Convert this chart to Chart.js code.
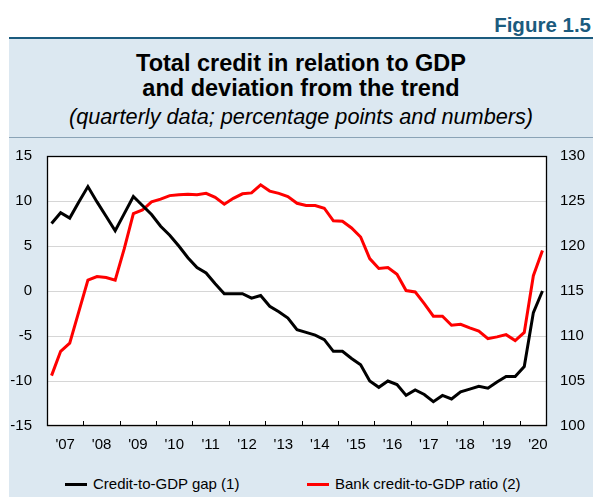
<!DOCTYPE html>
<html>
<head>
<meta charset="utf-8">
<script src="https://cdn.jsdelivr.net/npm/chart.js@4/dist/chart.umd.min.js"></script>
<style>
  html, body { margin: 0; padding: 0; background: #fff; }
  body { width: 593px; height: 497px; position: relative; overflow: hidden;
         font-family: "Liberation Sans", Arial, Helvetica, sans-serif; color: #000; }
  #fig { position: absolute; right: 2px; top: 15px; font-size: 20.5px; line-height: 20px;
         font-weight: bold; color: #1b5b7e; }
  #panel { position: absolute; left: 9px; top: 37px; right: 0; bottom: 0;
           background: #dce8f1; border-top: 2px solid #1b5b7e; }
  .ttl { position: absolute; left: 9px; right: 0; text-align: center; white-space: nowrap; }
  .t1 { font-size: 23.5px; line-height: 25px; font-weight: bold; }
  .t3 { font-size: 21.7px; line-height: 25px; font-style: italic; }
  #sep { position: absolute; left: 9px; right: 0; top: 137px; height: 1px; background: #8aa3b6; }
  #chart { position: absolute; left: 0; top: 132px; }
  .leg { position: absolute; top: 475px; font-size: 15px; line-height: 18px; white-space: nowrap; }
  .leg i { display: inline-block; width: 22px; height: 3px; vertical-align: middle;
           margin-right: 6px; position: relative; top: -1px; }
</style>
</head>
<body>
<div id="fig">Figure 1.5</div>
<div id="panel"></div>
<div class="ttl t1" style="top:51px">Total credit in relation to GDP</div>
<div class="ttl t1" style="top:76px">and deviation from the trend</div>
<div class="ttl t3" style="top:104px">(quarterly data; percentage points and numbers)</div>
<div id="sep"></div>
<canvas id="chart" width="593" height="338"></canvas>
<div id="legend"></div>
<script>
// year labels, one per calendar year (quarterly data from 2007Q1 to 2020Q3)
const yearLabels = ["'07", "'08", "'09", "'10", "'11", "'12", "'13", "'14", "'15", "'16", "'17", "'18", "'19", "'20"];

// Credit-to-GDP gap (1), percentage points, left axis
const creditGap = [7.5, 8.7, 8.1, 9.9, 11.6, 9.9, 8.3, 6.7, 8.6, 10.5, 9.5, 8.5, 7.2, 6.2,
  5.0, 3.7, 2.6, 2.0, 0.8, -0.3, -0.3, -0.3, -0.8, -0.5, -1.7, -2.3, -3.0, -4.3,
  -4.6, -4.9, -5.4, -6.7, -6.7, -7.5, -8.2, -10.0, -10.7, -10.0, -10.4, -11.6, -11.0, -11.5,
  -12.3, -11.6, -12.0, -11.2, -10.9, -10.6, -10.8, -10.1, -9.5, -9.5, -8.4, -2.4, 0.0];

// Bank credit-to-GDP ratio (2), right axis
const bankRatio = [105.6, 108.3, 109.2, 112.7, 116.2, 116.6, 116.5, 116.2, 119.7, 123.6, 124.0, 124.9, 125.2, 125.6,
  125.7, 125.75, 125.7, 125.85, 125.4, 124.65, 125.3, 125.8, 125.9, 126.8, 126.1, 125.85, 125.5, 124.75,
  124.5, 124.5, 124.2, 122.8, 122.75, 122.0, 121.0, 118.6, 117.5, 117.6, 116.85, 115.05, 114.9, 113.6,
  112.2, 112.2, 111.2, 111.3, 110.9, 110.55, 109.7, 109.9, 110.15, 109.5, 110.4, 116.7, 119.5];

const seriesNames = ['Credit-to-GDP gap (1)', 'Bank credit-to-GDP ratio (2)'];
const seriesColors = ['#000000', '#ff0000'];

// quarters sit in the middle of their slot on the x axis
const toPoints = arr => arr.map((v, i) => ({ x: i + 0.5, y: v }));

Chart.defaults.font.family = '"Liberation Sans", Arial, Helvetica, sans-serif';
Chart.defaults.font.size = 15;
Chart.defaults.color = '#000';

// white plot background + frame + small inward year ticks
const frame = {
  id: 'frame',
  beforeDraw(chart) {
    const { ctx, chartArea: a } = chart;
    ctx.save();
    ctx.fillStyle = '#fff';
    ctx.fillRect(a.left, a.top, a.right - a.left, a.bottom - a.top);
    ctx.restore();
  },
  afterDatasetsDraw(chart) {
    const { ctx, chartArea: a, scales } = chart;
    ctx.save();
    ctx.strokeStyle = '#000';
    ctx.lineWidth = 1;
    for (let q = 4; q < yearLabels.length * 4; q += 4) {
      const x = Math.round(scales.x.getPixelForValue(q)) + 0.5;
      ctx.beginPath();
      ctx.moveTo(x, a.bottom);
      ctx.lineTo(x, a.bottom - 5);
      ctx.stroke();
    }
    ctx.lineWidth = 1.3;
    ctx.strokeRect(a.left + 0.5, a.top + 0.5, a.right - a.left - 1, a.bottom - a.top - 1);
    ctx.restore();
  }
};

new Chart(document.getElementById('chart'), {
  type: 'line',
  data: {
    datasets: [
      { label: seriesNames[0], data: toPoints(creditGap), yAxisID: 'y',
        borderColor: seriesColors[0], borderWidth: 3, pointRadius: 0, tension: 0 },
      { label: seriesNames[1], data: toPoints(bankRatio), yAxisID: 'y1',
        borderColor: seriesColors[1], borderWidth: 3, pointRadius: 0, tension: 0 }
    ]
  },
  options: {
    responsive: false,
    animation: false,
    devicePixelRatio: 1,
    layout: { padding: 0 },
    plugins: { legend: { display: false }, tooltip: { enabled: false } },
    scales: {
      x: {
        type: 'linear', min: 0, max: 55,
        grid: { display: false, drawTicks: false },
        border: { display: false },
        afterBuildTicks: s => { s.ticks = yearLabels.map((_, i) => ({ value: i * 4 + 2 })); },
        afterFit: s => { s.height = 44; },
        ticks: { autoSkip: false, maxRotation: 0, padding: 10,
                 callback: v => yearLabels[(v - 2) / 4] }
      },
      y: {
        position: 'left', min: -15, max: 15,
        afterFit: s => { s.width = 47; },
        grid: { color: '#d6d6d6', lineWidth: 1, drawTicks: false },
        border: { display: false },
        ticks: { stepSize: 5, padding: 15 }
      },
      y1: {
        position: 'right', min: 100, max: 130,
        afterFit: s => { s.width = 46; },
        grid: { display: false, drawTicks: false },
        border: { display: false },
        ticks: { stepSize: 5, padding: 13 }
      }
    }
  },
  plugins: [frame]
});

// legend below the chart
const legendPos = [65, 307];
const legend = document.getElementById('legend');
seriesNames.forEach((name, i) => {
  const d = document.createElement('div');
  d.className = 'leg';
  d.style.left = legendPos[i] + 'px';
  d.innerHTML = `<i style="background:${seriesColors[i]}"></i>${name}`;
  legend.appendChild(d);
});
</script>
</body>
</html>
